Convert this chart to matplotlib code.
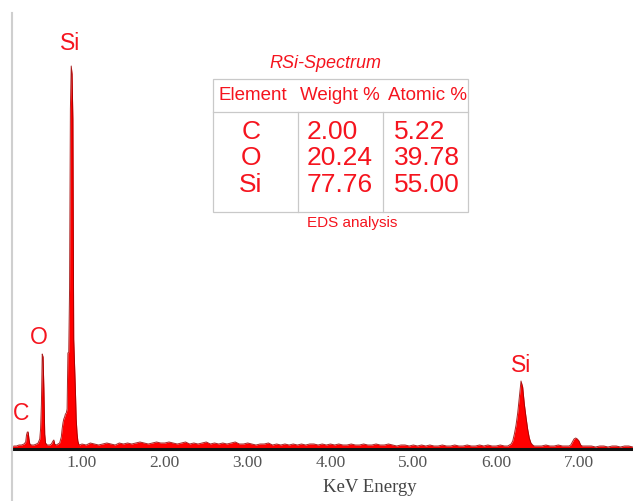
import matplotlib
matplotlib.use("Agg")
import matplotlib.pyplot as plt
from matplotlib.lines import Line2D
from matplotlib.patches import Rectangle

# ---------------- data ----------------
energy_kev = [
    0.15, 0.18, 0.21, 0.24, 0.27, 0.30, 0.32, 0.33, 0.34, 0.35, 0.36, 0.37, 0.39,
    0.42, 0.45, 0.47, 0.49, 0.50, 0.51, 0.52, 0.53, 0.54, 0.55, 0.56, 0.58, 0.61,
    0.63, 0.65, 0.66, 0.67, 0.69, 0.71, 0.73, 0.75, 0.76, 0.77, 0.78, 0.79, 0.80,
    0.81, 0.82, 0.83, 0.84, 0.85, 0.86, 0.87, 0.88, 0.89, 0.90, 0.91, 0.92, 0.93,
    0.94, 0.95, 0.96, 0.97,
    1.00, 1.05, 1.10, 1.15, 1.20, 1.25, 1.30, 1.35, 1.40, 1.45,
    1.50, 1.55, 1.60, 1.65, 1.70, 1.75, 1.80, 1.85, 1.90, 1.95,
    2.00, 2.05, 2.10, 2.15, 2.20, 2.25, 2.30, 2.35, 2.40, 2.45,
    2.50, 2.55, 2.60, 2.65, 2.70, 2.75, 2.80, 2.85, 2.90, 2.95,
    3.00, 3.05, 3.10, 3.15, 3.20, 3.25, 3.30, 3.35, 3.40, 3.45,
    3.50, 3.55, 3.60, 3.65, 3.70, 3.75, 3.80, 3.85, 3.90, 3.95,
    4.00, 4.05, 4.10, 4.15, 4.20, 4.25, 4.30, 4.35, 4.40, 4.45,
    4.50, 4.55, 4.60, 4.65, 4.70, 4.75, 4.80, 4.85, 4.90, 4.95,
    5.00, 5.05, 5.10, 5.15, 5.20, 5.25, 5.30, 5.35, 5.40, 5.45,
    5.50, 5.55, 5.60, 5.65, 5.70, 5.75, 5.80, 5.85, 5.90, 5.95,
    6.00, 6.05, 6.10,
    6.12, 6.14, 6.16, 6.18, 6.20, 6.22, 6.24, 6.26, 6.28, 6.30, 6.32, 6.34, 6.36,
    6.38, 6.40, 6.42, 6.44, 6.46, 6.50,
    6.55, 6.60, 6.65, 6.70, 6.75, 6.80, 6.85, 6.88, 6.90, 6.92, 6.94, 6.96, 6.98,
    7.00, 7.02, 7.04, 7.10, 7.15, 7.20, 7.25, 7.30, 7.35, 7.40, 7.45, 7.50, 7.55,
    7.60, 7.65,
]
counts = [
    2, 3, 3, 4, 4, 5, 7, 14, 17, 17, 10, 5, 4,
    4, 5, 6, 10, 20, 45, 95, 92, 60, 15, 6, 4, 4,
    5, 8, 9, 5, 4, 5, 6, 12, 20, 26, 30, 32, 35,
    36, 40, 96, 97, 160, 340, 383, 375, 330, 110, 85, 60, 30,
    16, 8, 5, 4,
    5, 4, 6, 5, 4, 5, 6, 5, 4, 6,
    5, 6, 5, 6, 7, 6, 5, 6, 7, 6,
    6, 7, 6, 5, 6, 7, 5, 6, 5, 6,
    7, 5, 6, 5, 6, 5, 6, 7, 5, 5,
    6, 5, 4, 5, 5, 6, 4, 5, 4, 5,
    4, 5, 4, 5, 4, 5, 5, 4, 5, 4,
    5, 4, 5, 4, 4, 5, 4, 4, 5, 4,
    4, 5, 4, 4, 5, 4, 3, 4, 4, 3,
    4, 3, 4, 3, 4, 3, 3, 4, 3, 3,
    4, 3, 3, 4, 3, 3, 4, 3, 4, 3,
    3, 4, 3,
    3, 3, 4, 5, 8, 15, 24, 36, 52, 68, 62, 45, 32,
    20, 11, 6, 4, 3, 3,
    3, 4, 3, 3, 4, 3, 3, 3, 4, 7, 10, 11, 10,
    8, 4, 3, 3, 3, 2, 3, 3, 2, 3, 3, 2, 3,
    3, 2,
]

x_ticks = [1, 2, 3, 4, 5, 6, 7]
x_tick_labels = ["1.00", "2.00", "3.00", "4.00", "5.00", "6.00", "7.00"]

peak_labels = ["C", "O", "Si", "Si"]
peak_energy = [0.34, 0.52, 0.87, 6.30]

table_title = "RSi-Spectrum"
table_headers = ["Element", "Weight %", "Atomic %"]
elements = ["C", "O", "Si"]
weight_pct = ["2.00", "20.24", "77.76"]
atomic_pct = ["5.22", "39.78", "55.00"]
table_caption = "EDS analysis"

# ---------------- figure ----------------
W, H = 633, 501
fig = plt.figure(figsize=(W / 100, H / 100), dpi=100)
fig.patch.set_facecolor("white")

def fx(px):
    return px / W

def fy(py):
    return 1 - py / H

ax = fig.add_axes([fx(12), fy(449), fx(633 - 12), (449 - 13) / H])
RED = "#f5141e"

ax.fill_between(energy_kev, counts, 0, color="#ff0000", lw=0, zorder=2)
ax.plot(energy_kev, counts, color="#9a0000", lw=0.7, alpha=0.85, zorder=3)

ax.set_xlim(0.155, 7.652)
ax.set_ylim(0, 436)

for s in ["top", "right", "left"]:
    ax.spines[s].set_visible(False)
ax.spines["bottom"].set_color("#111111")
ax.spines["bottom"].set_linewidth(2.2)
ax.spines["bottom"].set_zorder(5)

ax.set_yticks([])
ax.set_xticks(x_ticks)
ax.set_xticklabels(x_tick_labels, family="Liberation Serif", fontsize=12.5, color="#555555")
ax.tick_params(axis="x", length=0, pad=4)

ax.set_xlabel("KeV Energy", family="Liberation Serif", fontsize=13.5, color="#444444")
ax.xaxis.set_label_coords((370 - 12) / (633 - 12), -(488 - 449) / 436)
ax.xaxis.label.set_va("center")

# left gray line across full height
fig.add_artist(Line2D([fx(11.5), fx(11.5)], [fy(13), 0], color="#cfcfcf", lw=1.5,
                      transform=fig.transFigure))

# peak labels (placed relative to each peak's height)
offsets = {0: (-6, 19), 1: (-3, 16), 2: (-1, 23), 3: (0, 15)}
for i, (lab, e) in enumerate(zip(peak_labels, peak_energy)):
    idx = min(range(len(energy_kev)), key=lambda k: abs(energy_kev[k] - e))
    h = max(counts[max(0, idx - 2): idx + 3])
    dx, dy = offsets[i]
    ax.annotate(lab, (e, h), xytext=(dx * 0.72, dy * 0.72), textcoords="offset points",
                ha="center", va="center", color=RED, fontsize=16.5,
                family="Liberation Sans", zorder=6)

# ---------------- table ----------------
border = "#c9c9c9"
tl, tr, tt, tb, th = 213, 468, 79, 212, 112
fig.add_artist(Rectangle((fx(tl), fy(tb)), fx(tr - tl), (tb - tt) / H, fill=False,
                         ec=border, lw=0.9, transform=fig.transFigure))
fig.add_artist(Line2D([fx(tl), fx(tr)], [fy(th), fy(th)], color=border, lw=0.9,
                      transform=fig.transFigure))
for cx in (298, 383):
    fig.add_artist(Line2D([fx(cx), fx(cx)], [fy(th), fy(tb)], color=border, lw=0.9,
                          transform=fig.transFigure))

fig.text(fx(325), fy(63), table_title, ha="center", va="center", color=RED,
         fontsize=13, style="italic", family="Liberation Sans")

header_x = [253, 340, 427]
for hx, txt in zip(header_x, table_headers):
    fig.text(fx(hx), fy(95), txt, ha="center", va="center", color=RED,
             fontsize=13.5, family="Liberation Sans")

row_y = [132, 158, 185]
for ry, el, wv, av in zip(row_y, elements, weight_pct, atomic_pct):
    fig.text(fx(251), fy(ry), el, ha="center", va="center", color=RED,
             fontsize=19, family="Liberation Sans")
    fig.text(fx(307), fy(ry), wv, ha="left", va="center", color=RED,
             fontsize=19, family="Liberation Sans")
    fig.text(fx(394), fy(ry), av, ha="left", va="center", color=RED,
             fontsize=19, family="Liberation Sans")

fig.text(fx(352), fy(223), table_caption, ha="center", va="center", color=RED,
         fontsize=11, family="Liberation Sans")

fig.savefig("out.png", dpi=100, facecolor="white")
